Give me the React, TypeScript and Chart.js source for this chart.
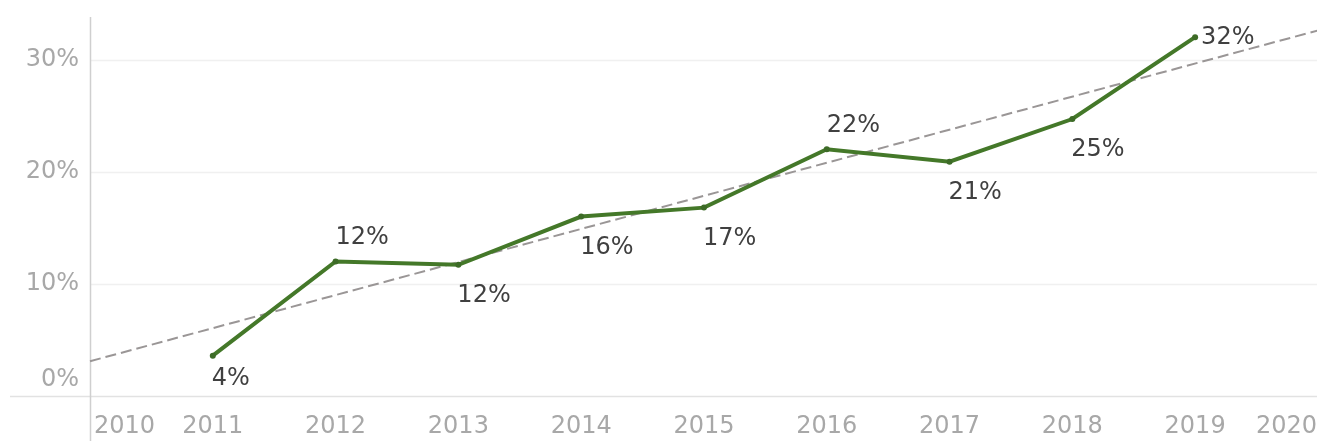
import React, { useEffect, useRef } from "react";
import { Chart, registerables } from "chart.js";

Chart.register(...registerables);

const years = [2011, 2012, 2013, 2014, 2015, 2016, 2017, 2018, 2019];
const values = [3.6, 12.0, 11.7, 16.0, 16.8, 22.0, 20.9, 24.7, 32.0];
const labelPlacement = ["below", "above", "below", "below", "below", "above", "below", "below", "right"];
const trendYears = [2010, 2020];
const trendValues = [3.1, 32.6];
const axisYears = [2010, 2011, 2012, 2013, 2014, 2015, 2016, 2017, 2018, 2019, 2020];
const yTicks = [0, 10, 20, 30];

const FONT = '"DejaVu Sans", sans-serif';

export default function App() {
  const ref = useRef<HTMLCanvasElement | null>(null);

  useEffect(() => {
    document.body.style.margin = "0";
    document.body.style.overflow = "hidden";
    const canvas = ref.current;
    if (!canvas) return;

    const decor = {
      id: "decor",
      beforeDatasetsDraw(chart: any) {
        const { ctx, chartArea, scales } = chart;
        const y0 = scales.y.getPixelForValue(0);
        ctx.save();
        ctx.strokeStyle = "#f0f0f0";
        ctx.lineWidth = 1.5;
        [10, 20, 30].forEach((v) => {
          const py = Math.round(scales.y.getPixelForValue(v)) + 0.5;
          ctx.beginPath();
          ctx.moveTo(chartArea.left, py);
          ctx.lineTo(chart.width, py);
          ctx.stroke();
        });
        ctx.strokeStyle = "#e2e2e2";
        ctx.beginPath();
        ctx.moveTo(10, Math.round(y0) + 0.5);
        ctx.lineTo(chart.width, Math.round(y0) + 0.5);
        ctx.stroke();
        ctx.strokeStyle = "#cfcfcf";
        ctx.beginPath();
        ctx.moveTo(Math.round(chartArea.left) + 0.5, chartArea.top);
        ctx.lineTo(Math.round(chartArea.left) + 0.5, chart.height);
        ctx.stroke();
        ctx.restore();
      },
      afterDraw(chart: any) {
        const { ctx, chartArea, scales } = chart;
        ctx.save();
        ctx.font = `24px ${FONT}`;
        ctx.fillStyle = "#a8a8a8";
        ctx.textBaseline = "middle";
        ctx.textAlign = "right";
        yTicks.forEach((v) => {
          let py = scales.y.getPixelForValue(v);
          if (v === 0) py -= 16;
          ctx.fillText(`${v}%`, chartArea.left - 11, py);
        });
        axisYears.forEach((yr, i) => {
          const px = scales.x.getPixelForValue(yr);
          if (i === 0) {
            ctx.textAlign = "left";
            ctx.fillText(String(yr), chartArea.left + 4, 427);
          } else if (i === axisYears.length - 1) {
            ctx.textAlign = "right";
            ctx.fillText(String(yr), chart.width, 427);
          } else {
            ctx.textAlign = "center";
            ctx.fillText(String(yr), px, 427);
          }
        });
        ctx.font = `24px ${FONT}`;
        ctx.fillStyle = "#404040";
        years.forEach((yr, i) => {
          const px = scales.x.getPixelForValue(yr);
          const py = scales.y.getPixelForValue(values[i]);
          const txt = `${Math.round(values[i])}%`;
          const pl = labelPlacement[i];
          ctx.textAlign = "left";
          if (pl === "right") {
            ctx.fillText(txt, px + 6, py + 1);
          } else if (pl === "above") {
            ctx.fillText(txt, px, py - 24);
          } else {
            ctx.fillText(txt, px - 1, py + (i === 0 ? 23 : 31));
          }
        });
        ctx.restore();
      },
    };

    const chart = new Chart(canvas, {
      type: "line",
      data: {
        datasets: [
          {
            label: "Share",
            data: years.map((x, i) => ({ x, y: values[i] })),
            borderColor: "#447829",
            backgroundColor: "#3d6b27",
            borderWidth: 4,
            pointRadius: 3,
            pointBackgroundColor: "#3d6b27",
            pointBorderWidth: 0,
            tension: 0,
            order: 1,
          },
          {
            label: "Trend",
            data: trendYears.map((x, i) => ({ x, y: trendValues[i] })),
            borderColor: "#9a9696",
            borderWidth: 2,
            borderDash: [11, 5],
            pointRadius: 0,
            tension: 0,
            order: 2,
            clip: false as any,
          },
        ],
      },
      options: {
        animation: false,
        responsive: false,
        devicePixelRatio: 1,
        layout: { padding: { left: 90, top: 17, right: 0, bottom: 45 } },
        plugins: { legend: { display: false }, tooltip: { enabled: false } },
        scales: {
          x: { type: "linear", min: 2010, max: 2019.96, display: false },
          y: { min: 0, max: 33.8, display: false },
        },
      },
      plugins: [decor],
    });
    return () => chart.destroy();
  }, []);

  return (
    <div style={{ width: 1317, height: 441 }}>
      <canvas ref={ref} width={1317} height={441} style={{ display: "block" }} />
    </div>
  );
}
